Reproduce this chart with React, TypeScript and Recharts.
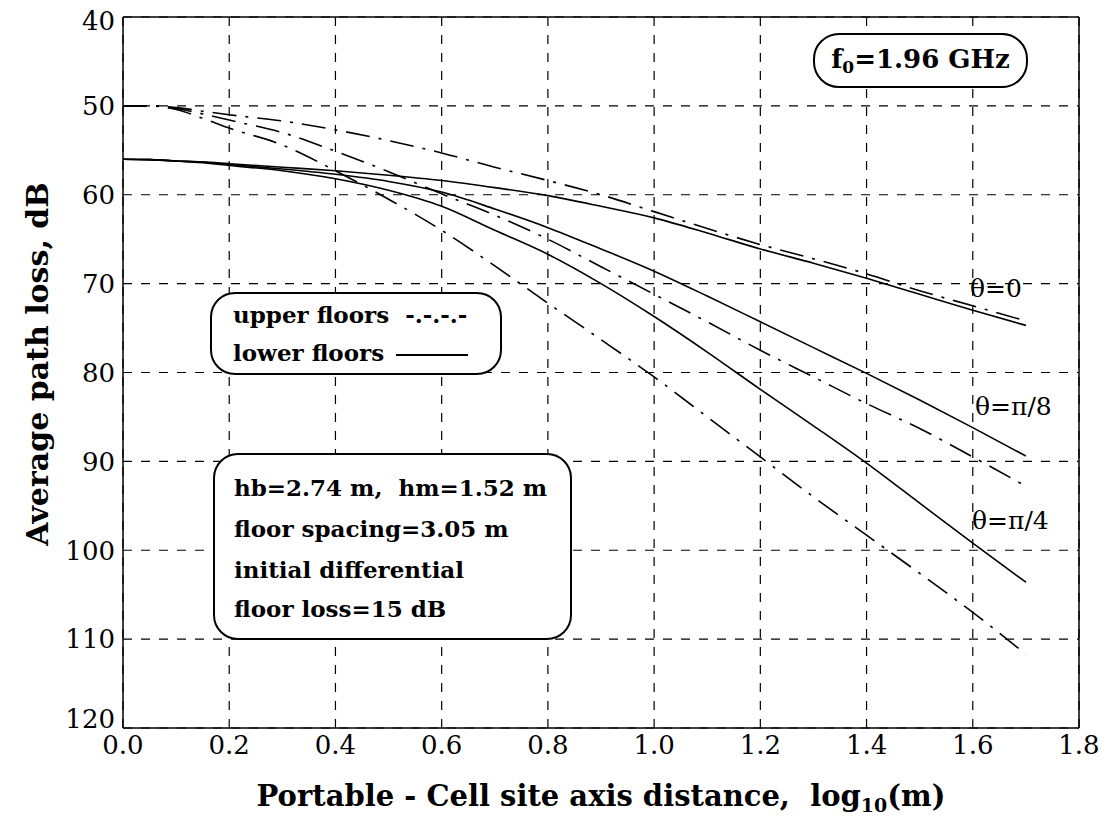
import React from "react";
import { LineChart, Line, XAxis, YAxis, CartesianGrid, ReferenceLine } from "recharts";

// log10 distance (m)
const XS = [0, 0.05, 0.1, 0.15, 0.2, 0.3, 0.4, 0.5, 0.6, 0.7, 0.8, 0.9, 1.0, 1.1, 1.2, 1.3, 1.4, 1.5, 1.6, 1.7];

// lower floors (solid)
const LOWER_T0 = [56, 56.05, 56.2, 56.3, 56.5, 56.9, 57.3, 57.8, 58.4, 59.2, 60.1, 61.3, 62.6, 64.3, 66.1, 67.7, 69.4, 71.2, 73.0, 74.7];
const LOWER_T8 = [56, 56.05, 56.2, 56.35, 56.6, 57.1, 57.7, 58.5, 59.7, 61.6, 63.7, 66.1, 68.6, 71.4, 74.3, 77.2, 80.1, 83.1, 86.2, 89.4];
const LOWER_T4 = [56, 56.05, 56.2, 56.4, 56.7, 57.3, 58.2, 59.5, 61.3, 64.0, 66.7, 70.0, 73.7, 77.7, 81.9, 86.0, 90.2, 94.7, 99.2, 103.6];

// upper floors (dash-dot)
const UPPER_T0 = [50, 50, 50.2, 50.6, 51.0, 51.7, 52.7, 53.9, 55.3, 56.9, 58.4, 60.0, 61.9, 63.8, 65.6, 67.2, 68.9, 70.8, 72.5, 74.2];
const UPPER_T8 = [50, 50, 50.3, 50.9, 51.6, 53.0, 55.1, 57.4, 59.9, 62.3, 65.0, 68.1, 71.2, 74.3, 77.5, 80.5, 83.5, 86.3, 89.5, 92.8];
const UPPER_T4 = [50, 50, 50.4, 51.4, 52.5, 54.4, 57.3, 60.5, 64.0, 68.0, 72.2, 76.3, 80.5, 85.0, 89.5, 94.0, 98.3, 102.6, 107.0, 111.7];

const X_TICKS = [0, 0.2, 0.4, 0.6, 0.8, 1.0, 1.2, 1.4, 1.6, 1.8];
const Y_TICKS = [40, 50, 60, 70, 80, 90, 100, 110, 120];

const rows = XS.map((x, i) => ({
  x,
  l0: LOWER_T0[i],
  l8: LOWER_T8[i],
  l4: LOWER_T4[i],
  u0: UPPER_T0[i],
  u8: UPPER_T8[i],
  u4: UPPER_T4[i],
}));

const SERIF = "'DejaVu Serif', serif";
const tickStyle = { fill: "#000", fontSize: 26, fontFamily: SERIF };
const boldText: React.CSSProperties = { fontFamily: SERIF, fontWeight: 700, color: "#000", whiteSpace: "nowrap" };
const box: React.CSSProperties = {
  position: "absolute",
  border: "2px solid #000",
  background: "#fff",
  boxSizing: "border-box",
};

const YTick = (props: any) => {
  const { x, y, payload } = props;
  const shift = payload.value === 120 ? -9 : payload.value === 40 ? 4 : 0;
  return (
    <text x={x} y={y + shift} dy="0.36em" textAnchor="end" fill="#000" fontSize={26} fontFamily={SERIF}>
      {payload.value}
    </text>
  );
};

const DASH_DOT = "24 9 3 9";

export default function App() {
  return (
    <div style={{ position: "absolute", left: 0, top: 0, width: 1120, height: 821, background: "#fff" }}>
      <LineChart width={1120} height={821} data={rows} margin={{ top: 17, right: 41, bottom: 53, left: 23 }}>
        <CartesianGrid stroke="#000" strokeWidth={1.2} strokeDasharray="9 9" />
        <XAxis
          dataKey="x"
          type="number"
          domain={[0, 1.8]}
          ticks={X_TICKS}
          tickFormatter={(v: number) => v.toFixed(1)}
          height={40}
          tickLine={false}
          axisLine={{ stroke: "#000", strokeWidth: 1.5 }}
          tick={tickStyle}
          interval={0}
          allowDataOverflow
        />
        <YAxis
          type="number"
          domain={[40, 120]}
          reversed
          ticks={Y_TICKS}
          width={100}
          tickLine={false}
          axisLine={{ stroke: "#000", strokeWidth: 1.5 }}
          tick={<YTick />}
          interval={0}
          allowDataOverflow
        />
        <ReferenceLine y={40} stroke="#000" strokeWidth={1.5} />
        <ReferenceLine x={1.8} stroke="#000" strokeWidth={1.5} />
        <Line dataKey="l0" type="monotone" stroke="#000" strokeWidth={1.6} dot={false} isAnimationActive={false} />
        <Line dataKey="l8" type="monotone" stroke="#000" strokeWidth={1.6} dot={false} isAnimationActive={false} />
        <Line dataKey="l4" type="monotone" stroke="#000" strokeWidth={1.6} dot={false} isAnimationActive={false} />
        <Line dataKey="u0" type="monotone" stroke="#000" strokeWidth={1.6} strokeDasharray={DASH_DOT} dot={false} isAnimationActive={false} />
        <Line dataKey="u8" type="monotone" stroke="#000" strokeWidth={1.6} strokeDasharray={DASH_DOT} dot={false} isAnimationActive={false} />
        <Line dataKey="u4" type="monotone" stroke="#000" strokeWidth={1.6} strokeDasharray={DASH_DOT} dot={false} isAnimationActive={false} />
      </LineChart>

      {/* Y axis title */}
      <div
        style={{
          ...boldText,
          position: "absolute",
          left: 37,
          top: 364,
          fontSize: 30,
          transform: "translate(-50%, -50%) rotate(-90deg)",
        }}
      >
        Average path loss, dB
      </div>

      {/* X axis title */}
      <div
        style={{
          ...boldText,
          position: "absolute",
          left: 123,
          width: 956,
          top: 778,
          textAlign: "center",
          fontSize: 29,
          lineHeight: "36px",
        }}
      >
        Portable - Cell site axis distance,&nbsp; log<sub style={{ fontSize: 19, verticalAlign: "-6px" }}>10</sub>(m)
      </div>

      {/* frequency box */}
      <div
        style={{
          ...box,
          left: 813,
          top: 33,
          width: 215,
          height: 55,
          borderRadius: 26,
          display: "flex",
          alignItems: "center",
          justifyContent: "center",
        }}
      >
        <span style={{ ...boldText, fontSize: 26 }}>
          f<sub style={{ fontSize: 17, verticalAlign: "-5px" }}>0</sub>=1.96 GHz
        </span>
      </div>

      {/* legend box */}
      <div
        style={{
          ...box,
          left: 210,
          top: 292,
          width: 292,
          height: 83,
          borderRadius: 25,
          display: "flex",
          flexDirection: "column",
          justifyContent: "center",
          paddingLeft: 21,
        }}
      >
        <div style={{ ...boldText, fontSize: 23, lineHeight: "38px" }}>upper floors&nbsp; -.-.-.-</div>
        <div style={{ ...boldText, fontSize: 23, lineHeight: "38px", display: "flex", alignItems: "center" }}>
          lower floors
          <span style={{ display: "inline-block", width: 72, borderTop: "2px solid #000", marginLeft: 12, marginTop: 4 }} />
        </div>
      </div>

      {/* parameter box */}
      <div
        style={{
          ...box,
          left: 213,
          top: 453,
          width: 359,
          height: 187,
          borderRadius: 25,
          paddingLeft: 19,
          paddingTop: 12,
        }}
      >
        <div style={{ ...boldText, fontSize: 23, lineHeight: "41px" }}>hb=2.74 m,&nbsp; hm=1.52 m</div>
        <div style={{ ...boldText, fontSize: 23, lineHeight: "41px" }}>floor spacing=3.05 m</div>
        <div style={{ ...boldText, fontSize: 23, lineHeight: "41px" }}>initial differential</div>
        <div style={{ ...boldText, fontSize: 23, lineHeight: "37px" }}>floor loss=15 dB</div>
      </div>

      {/* theta labels */}
      <div style={{ position: "absolute", left: 970, top: 274, fontFamily: SERIF, fontSize: 25, color: "#000" }}>θ=0</div>
      <div style={{ position: "absolute", left: 975, top: 392, fontFamily: SERIF, fontSize: 25, color: "#000" }}>θ=π/8</div>
      <div style={{ position: "absolute", left: 972, top: 506, fontFamily: SERIF, fontSize: 25, color: "#000" }}>θ=π/4</div>
    </div>
  );
}
